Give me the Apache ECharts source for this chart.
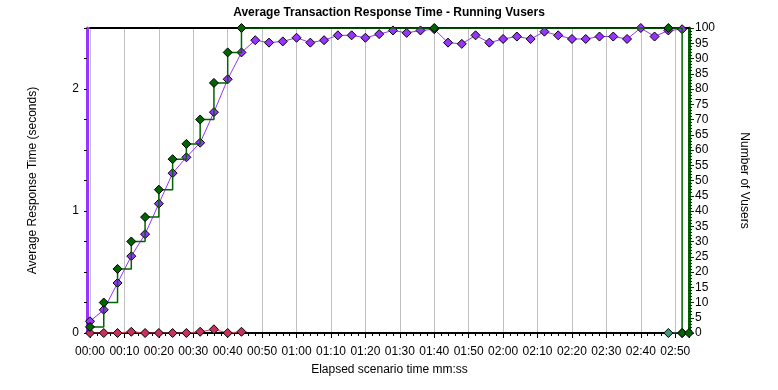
<!DOCTYPE html>
<html>
<head>
<meta charset="utf-8">
<script src="https://cdn.jsdelivr.net/npm/echarts@6/dist/echarts.min.js"></script>
<style>
html,body{margin:0;padding:0;background:#fff;}
#chart{width:778px;height:390px;}
</style>
</head>
<body>
<div id="chart"></div>
<script>
// Elapsed time (seconds) of the average response time samples
const responseTimes = [0,4,8,12,16,20,24,28,32,36,40,44,48,52,56,60,64,68,72,76,80,84,88,92,96,100,104,108,112,116,120,124,128,132,136,140,144,148,152,156,160,164,168,172];
const responseAvg = [0.096,0.19,0.41,0.63,0.81,1.06,1.31,1.44,1.56,1.81,2.08,2.30,2.40,2.38,2.39,2.42,2.38,2.40,2.44,2.44,2.42,2.45,2.48,2.46,2.48,2.49,2.38,2.37,2.44,2.38,2.41,2.43,2.41,2.47,2.44,2.41,2.41,2.43,2.43,2.41,2.50,2.43,2.48,2.49];

// Running Vusers
const vuserTimes = [0,4,8,12,16,20,24,28,32,36,40,44,100,168,172,174];
const vuserCounts = [2,10,21,30,38,47,57,62,70,82,92,100,100,100,0,0];

// Second transaction (red)
const redTimes = [0,4,8,12,16,20,24,28,32,36,40,44];
const redValues = [0,0,0,0.01,0,0,0,0,0.01,0.03,0,0.01];

// Third transaction (teal)
const tealTimes = [168,172];
const tealValues = [0,0];

const xMin = 0, xMax = 174, xStep = 10;
const leftMax = 2.5, rightMax = 100;

function pairs(xs, ys){ return xs.map((x,i)=>[x, ys[i]]); }
function mmss(v){
  if (Math.abs(v % 10) > 1e-6) return '';
  const m = Math.floor(v/60), s = Math.round(v - m*60);
  return String(m).padStart(2,'0') + ':' + String(s).padStart(2,'0');
}

const FONT = 'Liberation Sans, Arial, sans-serif';
const chart = echarts.init(document.getElementById('chart'), null, {renderer:'canvas'});
chart.setOption({
  animation:false,
  backgroundColor:'#ffffff',
  textStyle:{fontFamily:FONT},
  title:{
    text:'Average Transaction Response Time - Running Vusers',
    left:'center', top:2,
    textStyle:{fontFamily:FONT, fontSize:12, fontWeight:'bold', color:'#000'}
  },
  grid:{left:90, right:89, top:28, bottom:57, containLabel:false},
  xAxis:[{
    type:'value', min:xMin, max:xMax, interval:xStep,
    name:'Elapsed scenario time mm:ss', nameLocation:'middle', nameGap:31,
    nameTextStyle:{fontFamily:FONT, fontSize:12, color:'#000'},
    axisLine:{show:true, onZero:false, lineStyle:{color:'#000', width:2}},
    axisTick:{show:true, length:5, lineStyle:{color:'#000'}},
    minorTick:{show:true, splitNumber:5, length:3, lineStyle:{color:'#000'}},
    axisLabel:{formatter:mmss, fontFamily:FONT, fontSize:12, color:'#000', margin:13, showMaxLabel:false},
    splitLine:{show:true, lineStyle:{color:'#c0c0c0', width:1}},
    minorSplitLine:{show:false}
  },{
    type:'value', position:'top', min:xMin, max:xMax, interval:xStep,
    axisLine:{show:true, onZero:false, lineStyle:{color:'#000', width:2}},
    axisTick:{show:false}, axisLabel:{show:false}, splitLine:{show:false}
  }],
  yAxis:[{
    type:'value', min:0, max:leftMax, interval:0.25, position:'left', offset:3,
    name:'Average Response Time (seconds)', nameLocation:'middle', nameGap:48,
    nameTextStyle:{fontFamily:FONT, fontSize:12, color:'#000'},
    axisLine:{show:true, onZero:false, lineStyle:{color:'#9933ff', width:3}},
    axisTick:{show:true, length:3, lineStyle:{color:'#000'}},
    axisLabel:{formatter:v=>(Math.abs(v%1)<1e-6? String(v):''), fontFamily:FONT, fontSize:12, color:'#000', margin:8},
    splitLine:{show:false}
  },{
    type:'value', min:0, max:rightMax, interval:5, position:'right',
    name:'Number of Vusers', nameLocation:'middle', nameGap:49, nameRotate:-90,
    nameTextStyle:{fontFamily:FONT, fontSize:12, color:'#000'},
    axisLine:{show:true, onZero:false, lineStyle:{color:'#006400', width:3}},
    axisTick:{show:true, length:5, lineStyle:{color:'#003300'}},
    minorTick:{show:true, splitNumber:5, length:3, lineStyle:{color:'#003300'}},
    axisLabel:{fontFamily:FONT, fontSize:12, color:'#000', margin:6},
    splitLine:{show:false}
  }],
  series:[{
    name:'Average Response Time', type:'line', xAxisIndex:0, yAxisIndex:0,
    data:pairs(responseTimes, responseAvg),
    symbol:'diamond', symbolSize:9,
    lineStyle:{color:'#9933ff', width:1},
    itemStyle:{color:'#9933ff', borderColor:'#000', borderWidth:1},
    z:3
  },{
    name:'Transaction 2', type:'line', xAxisIndex:0, yAxisIndex:0,
    data:pairs(redTimes, redValues),
    symbol:'diamond', symbolSize:9,
    lineStyle:{color:'#d03a6a', width:1},
    itemStyle:{color:'#c8305e', borderColor:'#000', borderWidth:1},
    z:3
  },{
    name:'Transaction 3', type:'line', xAxisIndex:0, yAxisIndex:0,
    data:pairs(tealTimes, tealValues),
    symbol:'diamond', symbolSize:9,
    lineStyle:{color:'#5aa08a', width:1},
    itemStyle:{color:'#3f9a7c', borderColor:'#000', borderWidth:1},
    z:3
  },{
    name:'Running Vusers', type:'line', xAxisIndex:0, yAxisIndex:1,
    data:pairs(vuserTimes, vuserCounts), step:'end',
    symbol:'diamond', symbolSize:9,
    lineStyle:{color:'#006400', width:1.5},
    itemStyle:{color:'#006400', borderColor:'#000', borderWidth:1},
    z:4
  }]
});
</script>
</body>
</html>
